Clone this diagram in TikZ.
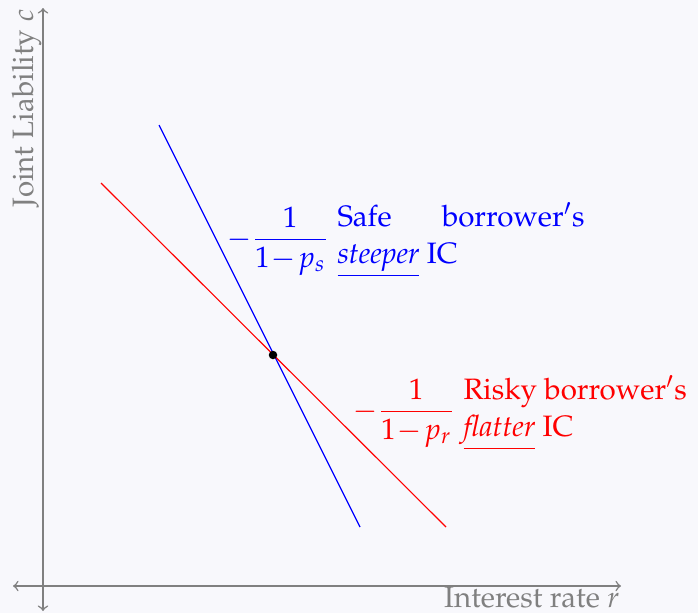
\documentclass[tikz,border=0pt]{standalone}
\usepackage[T1]{fontenc}
\usepackage{mathpazo}
\definecolor{bgc}{RGB}{248,248,252}
\tikzset{
  axis/.style={draw=gray, line width=0.6pt, <->, >=to},
  axlabel/.style={text=gray, inner sep=0pt, font=\fontsize{11.8}{14.5}\selectfont},
  icline/.style={line width=0.45pt},
  iclab/.style={inner sep=0pt, font=\fontsize{11.8}{14.5}\selectfont},
}
\newcommand{\icfrac}[1]{$\medmuskip=1mu\displaystyle -\frac{1}{1-p_{#1}}$}
\begin{document}
\begin{tikzpicture}[x=0.4pt, y=-0.4pt]
  \fill[bgc] (0,0) rectangle (698,613);
  \useasboundingbox (0,0) rectangle (698,613);
  % axes
  \coordinate (xl) at (13,586);
  \coordinate (xr) at (621,586);
  \coordinate (yt) at (43,8);
  \coordinate (yb) at (43,611);
  \draw[axis] (xl) -- (xr);
  \draw[axis] (yb) -- (yt);
  \node[axlabel, anchor=base east] (xlab) at (620,607) {Interest rate $r$};
  \node[axlabel, rotate=90, anchor=base east] (ylab) at (33,9) {Joint Liability $c$};
  % IC lines
  \coordinate (s1) at (159,125);
  \coordinate (s2) at (360,527);
  \coordinate (r1) at (101,183);
  \coordinate (r2) at (446,527);
  \draw[icline, blue] (s1) -- (s2);
  \draw[icline, red] (r1) -- (r2);
  \fill (273,355) circle[radius=1.7pt];
  % labels
  \node[iclab, text=blue, anchor=base east] (safefrac) at (329,247) {\icfrac{s}};
  \node[iclab, text=blue, anchor=west] (safe) at (337,240)
    {\parbox[c]{98.8pt}{\baselineskip=15pt
      \makebox[98.8pt][s]{Safe borrower$'$s}\\
      \underline{\textit{steeper}} IC}};
  \node[iclab, text=red, anchor=base east] (riskyfrac) at (455,419) {\icfrac{r}};
  \node[iclab, text=red, anchor=west] (risky) at (463,413)
    {\parbox[c]{95pt}{\baselineskip=15pt
      Risky borrower$'$s\\
      \underline{\textit{flatter}} IC}};
\end{tikzpicture}
\end{document}
